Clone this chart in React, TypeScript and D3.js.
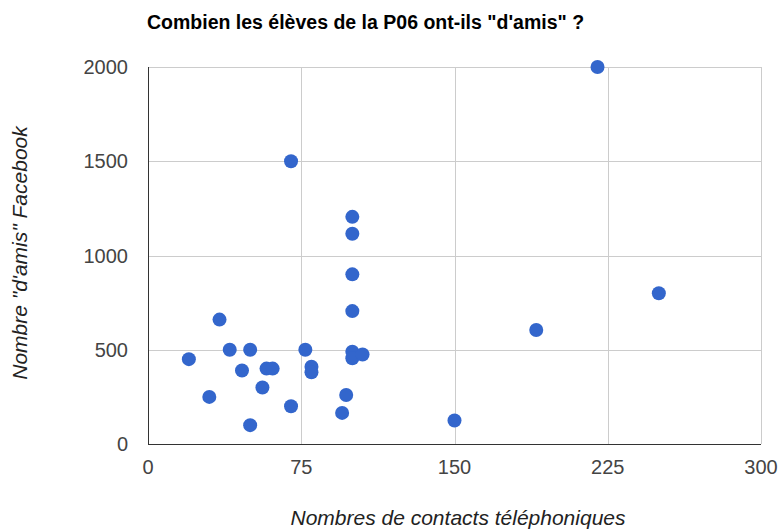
import React, { useEffect, useRef } from "react";
import * as d3 from "d3";

// contacts téléphoniques
const contacts = [20, 30, 35, 40, 46, 50, 50, 56, 58, 61, 70, 70, 77, 80, 80, 95, 97, 100, 100, 100, 100, 100, 100, 105, 150, 190, 220, 250];
// amis facebook
const amis = [450, 250, 660, 500, 390, 100, 500, 300, 400, 400, 200, 1500, 500, 410, 380, 165, 260, 1205, 1115, 900, 705, 490, 455, 475, 125, 605, 2000, 800];
const xTicks = [0, 75, 150, 225, 300];
const yTicks = [0, 500, 1000, 1500, 2000];

const W = 780;
const H = 530;
const margin = { left: 148, right: 20, top: 67, bottom: 86 };
const font = "Liberation Sans, Arial, sans-serif";

export default function App() {
  const ref = useRef<SVGSVGElement>(null);

  useEffect(() => {
    const svg = d3.select(ref.current);
    svg.selectAll("*").remove();

    const x = d3.scaleLinear().domain([0, 300]).range([margin.left, W - margin.right + 1]);
    const y = d3.scaleLinear().domain([0, 2000]).range([H - margin.bottom, margin.top]);

    svg.append("text")
      .attr("x", 147).attr("y", 29)
      .attr("font-family", font)
      .attr("font-weight", "bold").attr("font-size", 19.5)
      .attr("fill", "#000")
      .text('Combien les élèves de la P06 ont-ils "d\'amis" ?');

    const grid = svg.append("g").attr("stroke", "#cccccc").attr("stroke-width", 1);
    grid.selectAll("line.h").data(yTicks.slice(1)).join("line")
      .attr("x1", margin.left).attr("x2", x(300))
      .attr("y1", d => Math.round(y(d)) + 0.5).attr("y2", d => Math.round(y(d)) + 0.5);
    grid.selectAll("line.v").data(xTicks.slice(1)).join("line")
      .attr("y1", y(2000)).attr("y2", y(0))
      .attr("x1", d => Math.round(x(d)) + 0.5).attr("x2", d => Math.round(x(d)) + 0.5);

    svg.append("line")
      .attr("x1", margin.left + 0.5).attr("x2", margin.left + 0.5)
      .attr("y1", y(2000)).attr("y2", Math.round(y(0)) + 1)
      .attr("stroke", "#333");
    svg.append("line")
      .attr("x1", margin.left).attr("x2", x(300))
      .attr("y1", Math.round(y(0)) + 0.5).attr("y2", Math.round(y(0)) + 0.5)
      .attr("stroke", "#333");

    const lab = svg.append("g")
      .attr("font-family", font)
      .attr("font-size", 20).attr("fill", "#444");
    lab.selectAll("text.y").data(yTicks).join("text")
      .attr("x", 128).attr("y", d => y(d) + 7)
      .attr("text-anchor", "end")
      .text(d => d);
    lab.selectAll("text.x").data(xTicks).join("text")
      .attr("x", d => x(d)).attr("y", 474)
      .attr("text-anchor", "middle")
      .text(d => d);

    svg.append("text")
      .attr("x", 458).attr("y", 525)
      .attr("text-anchor", "middle")
      .attr("font-family", font)
      .attr("font-style", "italic").attr("font-size", 21).attr("fill", "#222")
      .text("Nombres de contacts téléphoniques");
    svg.append("text")
      .attr("transform", "translate(27,253) rotate(-90)")
      .attr("text-anchor", "middle")
      .attr("font-family", font)
      .attr("font-style", "italic").attr("font-size", 21).attr("fill", "#222")
      .text('Nombre "d\'amis" Facebook');

    svg.append("g").attr("fill", "#3366cc")
      .selectAll("circle").data(contacts).join("circle")
      .attr("cx", d => x(d))
      .attr("cy", (d, i) => y(amis[i]))
      .attr("r", 7);
  }, []);

  return (
    <svg ref={ref} width={W} height={H}
      style={{ position: "absolute", left: 0, top: 0, background: "#fff" }} />
  );
}
